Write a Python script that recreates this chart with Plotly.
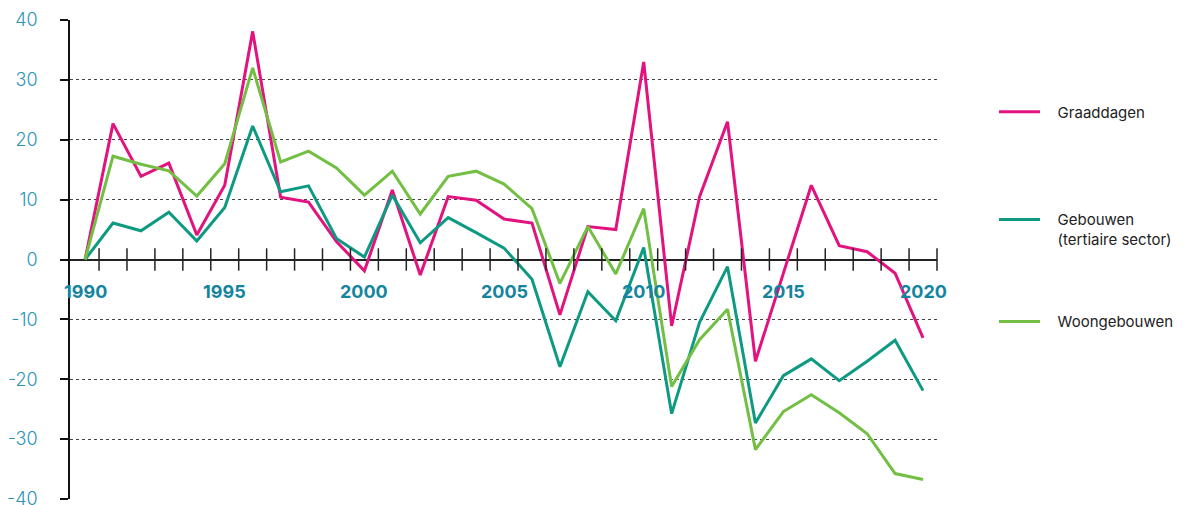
import plotly.graph_objects as go

years = list(range(1990, 2021))
graaddagen = [0, 22.7, 13.9, 16.1, 4.1, 12.4, 38.1, 10.4, 9.6, 3.0,
              -1.9, 11.6, -2.6, 10.5, 9.9, 6.75, 6.1, -9.25, 5.5, 5.0,
              33.0, -11.1, 10.5, 23.0, -17.0, -2.4, 12.4, 2.3, 1.3, -2.3, -13.1]
gebouwen = [0, 6.1, 4.8, 7.9, 3.1, 8.7, 22.3, 11.3, 12.3, 3.5,
            0.4, 10.75, 2.8, 7.0, 4.5, 1.9, -3.3, -17.9, -5.4, -10.25,
            2.0, -25.75, -10.5, -1.2, -27.3, -19.4, -16.6, -20.25, -17.0, -13.5, -21.9]
woongebouwen = [0, 17.25, 15.9, 14.8, 10.6, 16.0, 32.0, 16.3, 18.1, 15.3,
                10.75, 14.75, 7.6, 13.9, 14.75, 12.6, 8.5, -4.0, 5.5, -2.4,
                8.5, -21.2, -13.4, -8.3, -31.75, -25.4, -22.6, -25.6, -29.1, -35.75, -36.75]
label_years = [1990, 1995, 2000, 2005, 2010, 2015, 2020]
y_ticks = [-40, -30, -20, -10, 0, 10, 20, 30, 40]
y_tick_text = ["-40", "-30", "-20", "-10", "0", "10", "20", "30", "40"]

pad = "\u00a0\u00a0\u00a0"
names = [pad + "Graaddagen",
         pad + "Gebouwen<br>" + pad + "(tertiaire sector)",
         pad + "Woongebouwen"]
colors = ["#e2137f", "#0e9a82", "#72bf44"]
series = [graaddagen, gebouwen, woongebouwen]
legends = ["legend", "legend2", "legend3"]

fig = go.Figure()
for n, c, s, lg in zip(names, colors, series, legends):
    fig.add_trace(go.Scatter(x=years, y=s, mode="lines", name=n,
                             line=dict(color=c, width=3), legend=lg))

# tick marks crossing the zero line, between the years
half_ticks = [y + 0.5 for y in years]
fig.add_trace(go.Scatter(x=half_ticks, y=[0] * len(half_ticks), mode="markers",
                         marker=dict(symbol="line-ns", size=16,
                                     line=dict(width=1.5, color="#222222")),
                         showlegend=False, hoverinfo="skip", cliponaxis=False))

for yr in label_years:
    fig.add_annotation(x=yr, y=0, text=str(yr), showarrow=False, yshift=-32,
                       font=dict(family="Inter", size=18, color="#14849f", weight="bold"))

xr = [1989.46, 2020.5]

leg_common = dict(font=dict(family="Inter", size=15, color="#222222"),
                  bgcolor="rgba(0,0,0,0)", itemwidth=41, valign="top",
                  xanchor="left", yanchor="middle", x=1.0657)

# the page places the plot 8px from the top-left corner
fig.update_layout(
    width=1178, height=497,
    margin=dict(l=62, r=249, t=12, b=5.5, autoexpand=False),
    plot_bgcolor="white", paper_bgcolor="white",
    showlegend=True,
    legend=dict(leg_common, y=0.808),
    legend2=dict(leg_common, y=0.563),
    legend3=dict(leg_common, y=0.370),
    xaxis=dict(range=xr, showticklabels=False, ticks="", showgrid=False,
               zeroline=False, showline=False, automargin=False),
    yaxis=dict(range=[-40, 40], tickmode="array", tickvals=y_ticks,
               ticktext=y_tick_text,
               showgrid=True, gridcolor="#444444", griddash="dot", gridwidth=1,
               zeroline=True, zerolinecolor="#222222", zerolinewidth=1.5,
               showline=True, linecolor="#111111", linewidth=1.5,
               ticks="outside", ticklen=8, tickwidth=1.5, tickcolor="#111111",
               ticklabelstandoff=19, ticklabeloverflow="allow", automargin=False,
               tickfont=dict(family="Inter", size=18, color="#2a93b5", weight=300)),
)

fig.write_html("out.html")
